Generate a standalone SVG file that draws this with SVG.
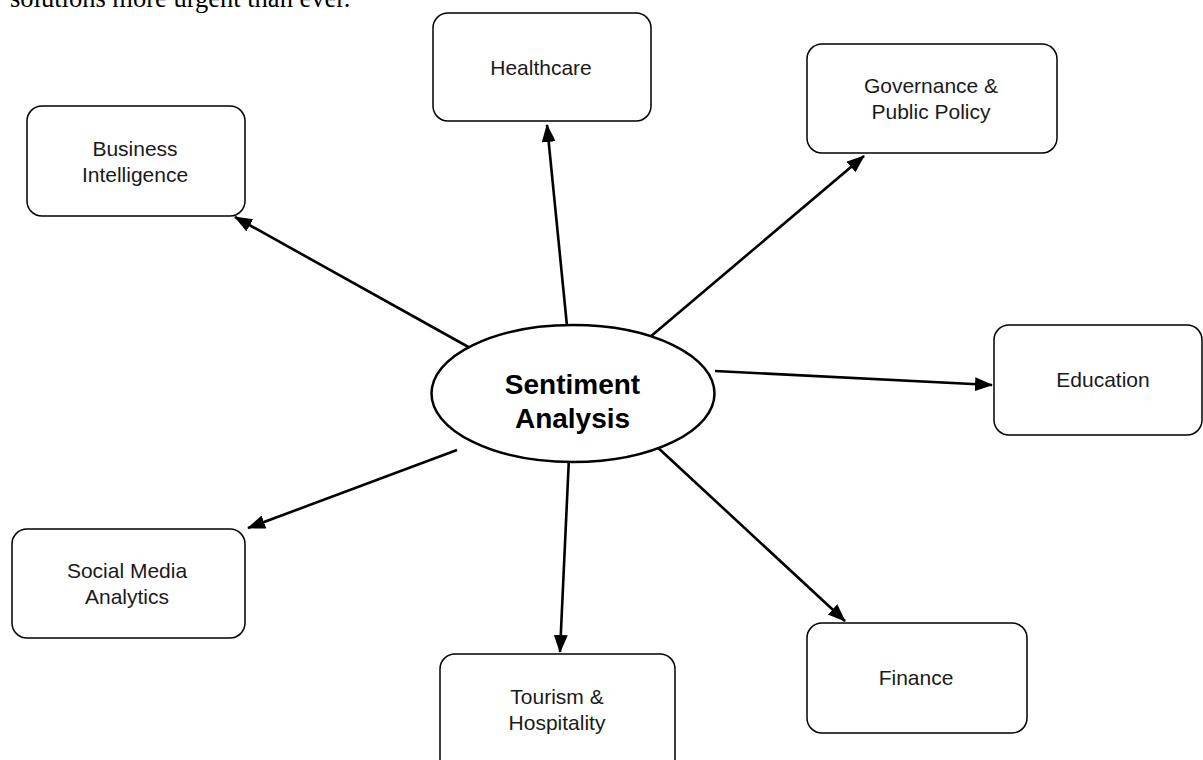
<svg xmlns="http://www.w3.org/2000/svg" width="1203" height="760" viewBox="0 0 1203 760">
<style>
.box{fill:#fff;stroke:#000;stroke-width:1.5}
.lbl{font-family:"Liberation Sans",Arial,sans-serif;font-size:21px;fill:#1a1a1a;text-anchor:middle}
.ttl{font-family:"Liberation Sans",Arial,sans-serif;font-size:28px;font-weight:bold;fill:#000;text-anchor:middle}
.conn line{stroke:#000;stroke-width:2.6}
</style>
<defs>
<marker id="ah" markerUnits="userSpaceOnUse" markerWidth="19" markerHeight="15" refX="17" refY="7" orient="auto">
<path d="M0,0 L18,7 L0,14 Z" fill="#000"/>
</marker>
</defs>
<rect width="1203" height="760" fill="#fff"/>
<text x="10" y="7" font-family="Liberation Serif,'Times New Roman',serif" font-size="26.5" fill="#000">solutions more urgent than ever.</text>
<g class="conn">
<line x1="472" y1="349" x2="235" y2="217" marker-end="url(#ah)"/>
<line x1="567" y1="326" x2="547" y2="125" marker-end="url(#ah)"/>
<line x1="650" y1="337" x2="864" y2="156" marker-end="url(#ah)"/>
<line x1="715" y1="371" x2="992" y2="385" marker-end="url(#ah)"/>
<line x1="457" y1="450" x2="248" y2="528" marker-end="url(#ah)"/>
<line x1="569" y1="457" x2="560" y2="652" marker-end="url(#ah)"/>
<line x1="655" y1="445" x2="845" y2="621" marker-end="url(#ah)"/>
</g>
<g id="center">
<ellipse cx="573" cy="393.5" rx="141.5" ry="68.5" fill="#fff" stroke="#000" stroke-width="2.5"/>
<text class="ttl" x="572.5" y="394">Sentiment</text>
<text class="ttl" x="572.5" y="428">Analysis</text>
</g>
<g id="healthcare">
<rect class="box" x="433" y="13" width="218" height="108" rx="15"/>
<text class="lbl" x="541" y="75">Healthcare</text>
</g>
<g id="business">
<rect class="box" x="27" y="106" width="218" height="110" rx="15"/>
<text class="lbl" x="135" y="156">Business</text>
<text class="lbl" x="135" y="182">Intelligence</text>
</g>
<g id="governance">
<rect class="box" x="807" y="44" width="250" height="109" rx="15"/>
<text class="lbl" x="931" y="93">Governance &amp;</text>
<text class="lbl" x="931" y="119">Public Policy</text>
</g>
<g id="education">
<rect class="box" x="994" y="325" width="208" height="110" rx="15"/>
<text class="lbl" x="1103" y="387">Education</text>
</g>
<g id="social">
<rect class="box" x="12" y="529" width="233" height="109" rx="15"/>
<text class="lbl" x="127" y="578">Social Media</text>
<text class="lbl" x="127" y="604">Analytics</text>
</g>
<g id="tourism">
<rect class="box" x="440" y="654" width="235" height="120" rx="15"/>
<text class="lbl" x="557" y="704">Tourism &amp;</text>
<text class="lbl" x="557" y="730">Hospitality</text>
</g>
<g id="finance">
<rect class="box" x="807" y="623" width="220" height="110" rx="15"/>
<text class="lbl" x="916" y="685">Finance</text>
</g>
</svg>
